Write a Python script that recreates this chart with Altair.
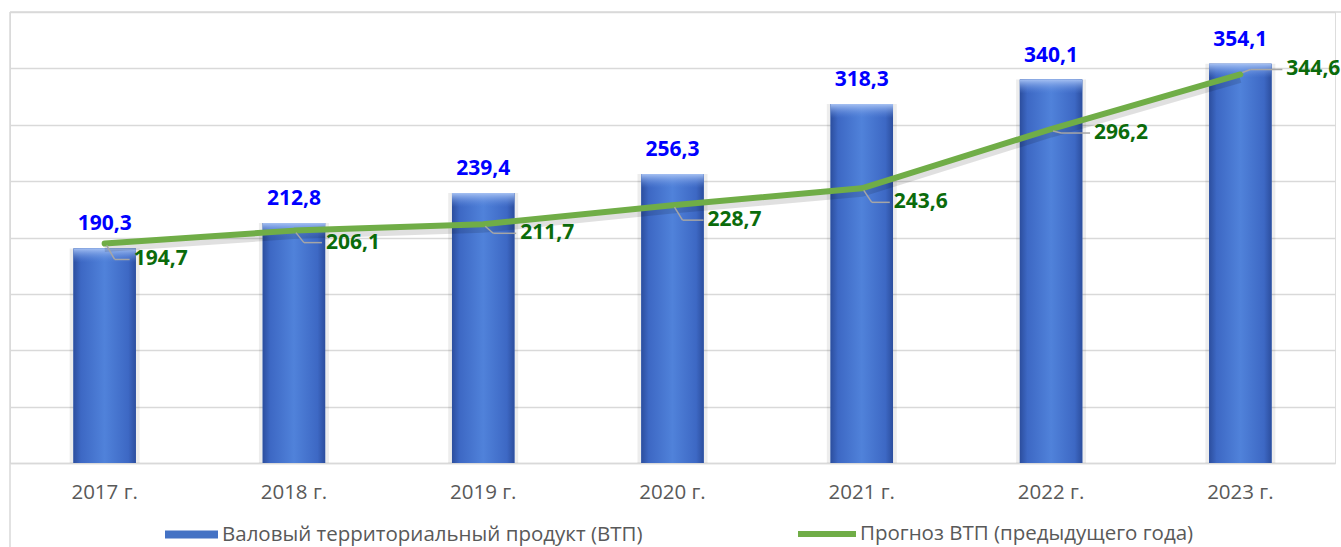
import altair as alt
import pandas as pd

years = ["2017 г.", "2018 г.", "2019 г.", "2020 г.", "2021 г.", "2022 г.", "2023 г."]
gvp = [190.3, 212.8, 239.4, 256.3, 318.3, 340.1, 354.1]
forecast = [194.7, 206.1, 211.7, 228.7, 243.6, 296.2, 344.6]
bar_name = "Валовый территориальный продукт (ВТП)"
line_name = "Прогноз ВТП (предыдущего года)"

df = pd.DataFrame({"year": years, "gvp": gvp, "forecast": forecast})

FONT = "Open Sans"
GRID = "#D9D9D9"

base = alt.Chart(df).transform_calculate(
    glabel="replace(format(datum.gvp, '.1f'), '.', ',')",
    flabel="replace(format(datum.forecast, '.1f'), '.', ',')",
    bname=f'"{bar_name}"',
    lname=f'"{line_name}"',
)

x = alt.X(
    "year:N", sort=years,
    scale=alt.Scale(paddingInner=0.67, paddingOuter=0.335),
    axis=alt.Axis(title=None, labelAngle=0, labelFont=FONT, labelFontSize=20.5,
                  labelColor="#595959", labelPadding=19, ticks=False,
                  domainColor=GRID, domainWidth=1.5, grid=False),
)
y = alt.Y(
    "gvp:Q", scale=alt.Scale(domain=[0, 400], nice=False),
    axis=alt.Axis(title=None, labels=False, ticks=False, domain=False,
                  values=list(range(0, 401, 50)), gridColor=GRID, gridWidth=1.5),
)

halo = base.mark_bar(width=70, color="#000000", opacity=0.07).encode(x=x, y=y)

bars = base.mark_bar().encode(
    x=x, y=y,
    fill=alt.Fill("bname:N", scale=alt.Scale(domain=[bar_name], range=["#4472C4"]),
                  legend=alt.Legend(title=None, orient="none", legendX=155, legendY=496,
                                    symbolType="M-1,-0.15H1V0.15H-1Z", symbolSize=2809,
                                    symbolStrokeWidth=0, labelFont=FONT, labelFontSize=20.5,
                                    labelColor="#595959", labelOffset=4, labelLimit=0,
                                    padding=0)),
)

body = base.mark_bar(color=alt.Gradient(
    gradient="linear", x1=0, x2=1, y1=0, y2=0,
    stops=[alt.GradientStop(color="#2C4E9E", offset=0),
           alt.GradientStop(color="#3D68C4", offset=0.12),
           alt.GradientStop(color="#5082DA", offset=0.5),
           alt.GradientStop(color="#3D68C4", offset=0.88),
           alt.GradientStop(color="#2C4E9E", offset=1)])).encode(x=x, y=y)

cap = base.mark_bar(y2Offset=14, color=alt.Gradient(
    gradient="linear", x1=0, x2=0, y1=0, y2=1,
    stops=[alt.GradientStop(color="#A5C0F2", offset=0),
           alt.GradientStop(color="rgba(90,135,220,0)", offset=1)])).encode(
    x=x, y=y, y2=alt.Y2("gvp:Q"))

line_shadow = base.mark_line(color="#000000", opacity=0.12, strokeWidth=7, yOffset=5).encode(
    x=x, y=alt.Y("forecast:Q"))

line = base.mark_line(strokeWidth=6, strokeCap="round", strokeJoin="round").encode(
    x=x, y=alt.Y("forecast:Q"),
    stroke=alt.Stroke("lname:N", scale=alt.Scale(domain=[line_name], range=["#70AD47"]),
                      legend=alt.Legend(title=None, orient="none", legendX=785, legendY=490,
                                        symbolType="M-1,0H1", symbolSize=3364,
                                        symbolStrokeWidth=6, labelFont=FONT, labelFontSize=20.5,
                                        labelColor="#595959", labelOffset=1, labelLimit=0,
                                        padding=0)),
)

blue_labels = base.mark_text(dy=-24, font=FONT, fontSize=21, fontWeight="bold",
                             color="#0000FF", baseline="middle").encode(
    x=x, y=y, text="glabel:N")

offsets = [(29, 16), (32, 12), (37, 9), (35, 15), (32, 14), (43, 4), (46, -5)]
layers = [halo, bars, body, cap, line_shadow, line, blue_labels]
for yr, (dx, dy) in zip(years, offsets):
    sub = base.transform_filter(alt.datum.year == yr)
    sgn = 1 if dy >= 0 else -1
    layers.append(sub.mark_rule(color="#A6A6A6", strokeWidth=1.5,
                                xOffset=2, yOffset=2 * sgn, x2Offset=10, y2Offset=dy).encode(
        x=x, x2=alt.X2("year:N"), y=alt.Y("forecast:Q"), y2=alt.Y2("forecast:Q")))
    layers.append(sub.mark_rule(color="#A6A6A6", strokeWidth=1.5,
                                xOffset=10, yOffset=dy, x2Offset=dx - 4, y2Offset=dy).encode(
        x=x, x2=alt.X2("year:N"), y=alt.Y("forecast:Q"), y2=alt.Y2("forecast:Q")))
    layers.append(sub.mark_text(align="left", baseline="middle", dx=dx, dy=dy, font=FONT,
                                fontSize=21, fontWeight="bold", color="#0B6B0B").encode(
        x=x, y=alt.Y("forecast:Q"), text="flabel:N"))

frame_data = alt.Data(values=[{"a": 1}])
frame_left = alt.Chart(frame_data).mark_rule(color=GRID, strokeWidth=1.5).encode(
    x=alt.value(0), y=alt.value(0), y2=alt.value(560))
frame_top = alt.Chart(frame_data).mark_rule(color=GRID, strokeWidth=1.5).encode(
    x=alt.value(0), x2=alt.value(1335), y=alt.value(0))
layers += [frame_left, frame_top]

chart = alt.layer(*layers).properties(
    width=1325, height=451,
    padding={"left": 10, "top": 12, "right": 6, "bottom": 84},
    autosize=alt.AutoSizeParams(type="none"),
).configure_view(stroke=None).configure(background="white")

chart.save("out.html", embed_options={"renderer": "svg", "actions": False})
